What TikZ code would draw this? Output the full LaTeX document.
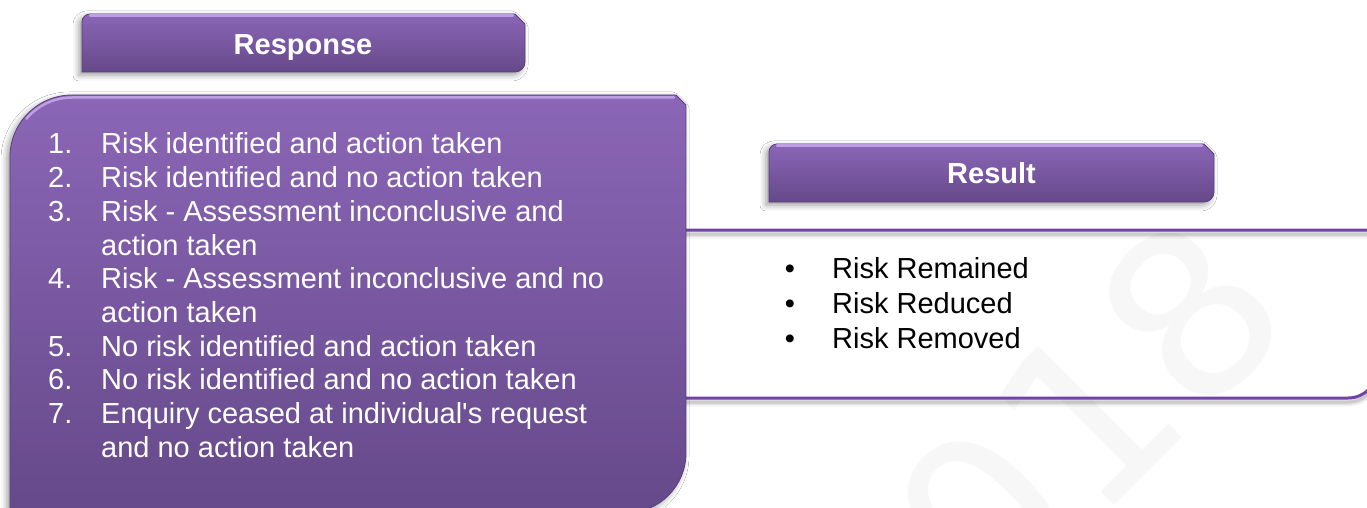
\documentclass[tikz,border=0pt]{standalone}
\usepackage{fontspec}
\setmainfont{Liberation Sans}
\newfontfamily\wmfont{DejaVu Sans}
\usetikzlibrary{shadows.blur}
\definecolor{pTop}{HTML}{8B66B7}
\definecolor{pBot}{HTML}{654989}
\definecolor{pHi}{HTML}{C8A8EE}
\definecolor{pEdge}{HTML}{59407C}
\definecolor{pLine}{HTML}{7242A8}
\definecolor{wmcol}{HTML}{F7F7F7}
\begin{document}
\begin{tikzpicture}[x=1pt,y=1pt,
  panel/.style={top color=pTop, bottom color=pBot, draw=pEdge, line width=0.8pt,
    blur shadow={shadow xshift=-3pt, shadow yshift=-3pt, shadow blur radius=6pt, shadow opacity=40}},
  hilite/.style={draw=pHi, line width=2.5pt, line cap=round, opacity=0.85},
  hdrtext/.style={anchor=base, inner sep=0pt, text=white, font=\fontsize{29}{34}\selectfont\bfseries},
  num/.style={anchor=base west, inner sep=0pt, text=white, font=\fontsize{29}{34}\selectfont},
  itemtext/.style={num},
  bul/.style={anchor=base, inner sep=0pt, text=black, font=\fontsize{29}{34}\selectfont},
  restext/.style={anchor=base west, inner sep=0pt, text=black, font=\fontsize{29}{34}\selectfont},
  wmark/.style={rotate=45, inner sep=0pt, text=wmcol, font=\wmfont\fontsize{228}{228}\selectfont}
]
\useasboundingbox[fill=white] (0,0) rectangle (1367,507);

% watermark
\node[wmark] (wm) at (1036,40) {2018};

% white result box outline with shadow
\foreach \w/\o in {9/0.04,6/0.07,3/0.10}{
  \draw[line width=\w pt, draw=black, opacity=\o, yshift=-4pt]
    (600,277) -- (1368,277) -- (1378,267) -- (1378,139)
    arc[start angle=0,end angle=-90,radius=30] -- (600,109);
}
\draw[line width=3pt, draw=pLine]
  (600,277) -- (1368,277) -- (1378,267) -- (1378,139)
  arc[start angle=0,end angle=-90,radius=30] -- (600,109);

% big response panel
\path[panel] (10,-6) -- (10,350) arc[start angle=180,end angle=90,radius=62]
  -- (676,412) -- (686,402) -- (686,54) arc[start angle=0,end angle=-90,radius=60] -- cycle;
\draw[hilite] (72,350) ++(140:59.5) arc[start angle=140,end angle=90,radius=59.5] -- (674,409.5);

% header: Response
\path[panel] (82,435) -- (82,485) arc[start angle=180,end angle=90,radius=8]
  -- (515,493) -- (525,483) -- (525,445) arc[start angle=0,end angle=-90,radius=10] -- cycle;
\draw[hilite] (90,491.5) -- (513,491.5);
\node[hdrtext] (resp) at (303,452.5) {Response};

% header: Result
\path[panel] (769,305) -- (769,355) arc[start angle=180,end angle=90,radius=8]
  -- (1204,363) -- (1214,353) -- (1214,315) arc[start angle=0,end angle=-90,radius=10] -- cycle;
\draw[hilite] (777,361.5) -- (1202,361.5);
\node[hdrtext] (res) at (991.5,324) {Result};

% numbered list
\node[num] (n1) at (48,353) {1.};
\node[itemtext] (t1) at (101,353) {Risk identified and action taken};
\node[num] (n2) at (48,319.3) {2.};
\node[itemtext] (t2) at (101,319.3) {Risk identified and no action taken};
\node[num] (n3) at (48,285.6) {3.};
\node[itemtext] (t3) at (101,285.6) {Risk - Assessment inconclusive and};
\node[itemtext] (t3b) at (101,251.9) {action taken};
\node[num] (n4) at (48,218.2) {4.};
\node[itemtext] (t4) at (101,218.2) {Risk - Assessment inconclusive and no};
\node[itemtext] (t4b) at (101,184.5) {action taken};
\node[num] (n5) at (48,150.8) {5.};
\node[itemtext] (t5) at (101,150.8) {No risk identified and action taken};
\node[num] (n6) at (48,117.1) {6.};
\node[itemtext] (t6) at (101,117.1) {No risk identified and no action taken};
\node[num] (n7) at (48,83.4) {7.};
\node[itemtext] (t7) at (101,83.4) {Enquiry ceased at individual\textquotesingle s request};
\node[itemtext] (t7b) at (101,49.7) {and no action taken};

% bullet list
\node[bul] (b1) at (790,228.5) {•};
\node[restext] (r1) at (832,228.5) {Risk Remained};
\node[bul] (b2) at (790,193.5) {•};
\node[restext] (r2) at (832,193.5) {Risk Reduced};
\node[bul] (b3) at (790,158.5) {•};
\node[restext] (r3) at (832,158.5) {Risk Removed};
\end{tikzpicture}
\end{document}
